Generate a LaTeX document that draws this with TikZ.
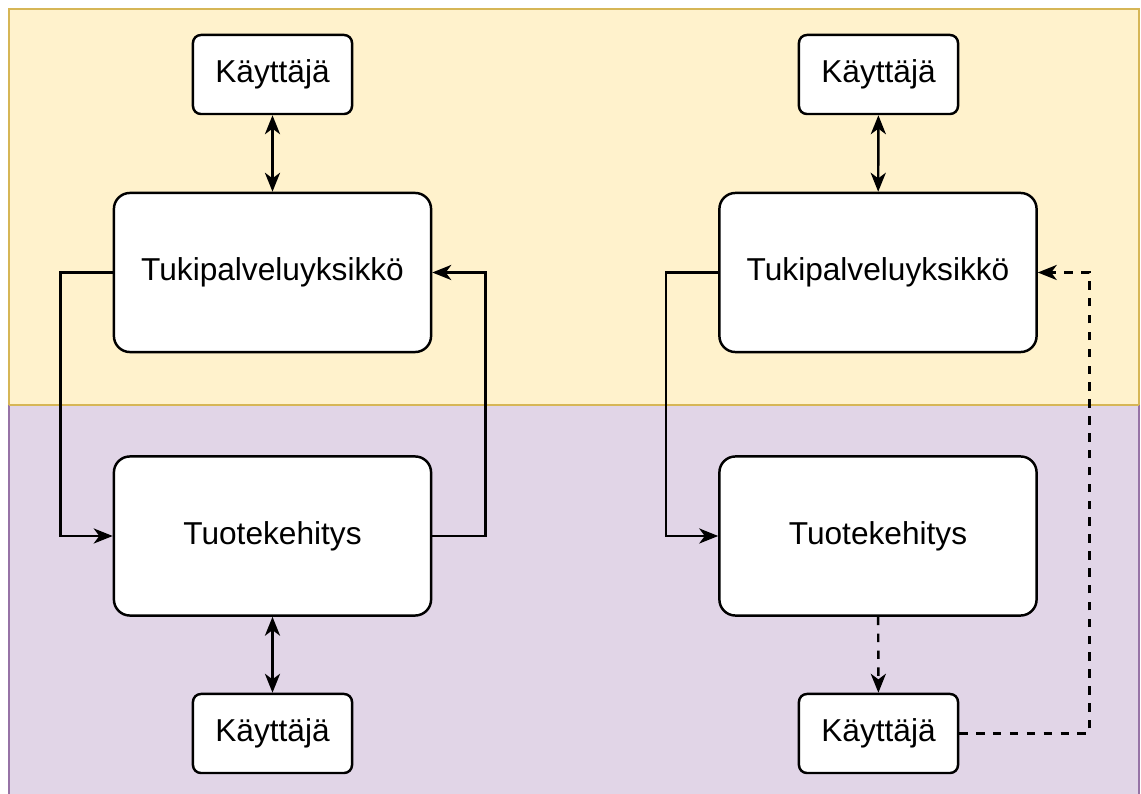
\documentclass[tikz,border=0pt]{standalone}
\usepackage{fontspec}
\setmainfont{Liberation Sans}
\usetikzlibrary{arrows.meta}

\definecolor{bandgelb}{HTML}{FFF2CC}
\definecolor{bandgelbrand}{HTML}{D6B656}
\definecolor{bandlila}{HTML}{E1D5E7}
\definecolor{bandlilarand}{HTML}{9673A6}

\tikzset{
  kasti/.style={draw, fill=white, line width=0.7pt, font=\fontsize{9}{11}\selectfont},
  iso/.style={kasti, minimum width=3.17cm, minimum height=1.59cm, rounded corners=0.16cm},
  pieni/.style={kasti, minimum width=1.59cm, minimum height=0.79cm, rounded corners=0.08cm},
  kärki/.tip={Stealth[length=5.4pt,width=4.3pt,inset=1.6pt]},
  yhteys/.style={line width=0.7pt, -kärki},
  kaksi/.style={yhteys, kärki-kärki},
  katko/.style={yhteys, dash pattern=on 2.4pt off 2.4pt}
}

\begin{document}
\begin{tikzpicture}[x=0.01cm, y=-0.01cm]
  \useasboundingbox (0,0) rectangle (1141,794);
  % taustakaistat
  \fill [bandgelb] (9,9) rectangle (1139,405);
  \draw [bandgelbrand, line width=0.7pt] (9,405) -- (9,9) -- (1139,9) -- (1139,405);
  \fill [bandlila] (9,405) rectangle (1139,794);
  \draw [bandlilarand, line width=0.7pt] (9,794) -- (9,405);
  \draw [bandlilarand, line width=0.7pt] (1139,794) -- (1139,405);
  \draw [bandgelbrand, line width=0.7pt] (9,405) -- (1139,405);

  % vasen puoli
  \node [pieni] (kayttajaA) at (272.5,74.5) {Käyttäjä};
  \node [iso] (tukiA) at (272.5,272.5) {Tukipalveluyksikkö};
  \node [iso] (tuoteA) at (272.5,536) {Tuotekehitys};
  \node [pieni] (kayttajaB) at (272.5,733.5) {Käyttäjä};

  \draw [kaksi] (kayttajaA) -- (tukiA);
  \draw [kaksi] (tuoteA) -- (kayttajaB);
  \draw [yhteys] (tukiA.west) -- ++(-52,0) |- (tuoteA.west);
  \draw [yhteys] (tuoteA.east) -- ++(53,0) |- (tukiA.east);

  % oikea puoli
  \node [pieni] (kayttajaC) at (878.5,74.5) {Käyttäjä};
  \node [iso] (tukiB) at (878,272.5) {Tukipalveluyksikkö};
  \node [iso] (tuoteB) at (878,536) {Tuotekehitys};
  \node [pieni] (kayttajaD) at (878.5,733.5) {Käyttäjä};

  \draw [kaksi] (kayttajaC) -- (tukiB);
  \draw [yhteys] (tukiB.west) -- ++(-52,0) |- (tuoteB.west);
  \draw [katko] (tuoteB) -- (kayttajaD);
  \draw [katko] (kayttajaD.east) -- ++(130,0) |- (tukiB.east);
\end{tikzpicture}
\end{document}
